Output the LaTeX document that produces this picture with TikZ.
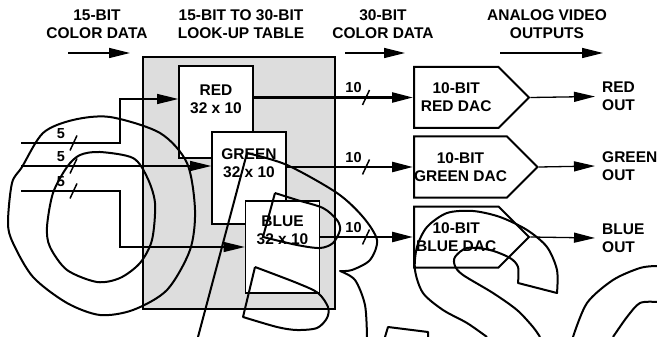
\documentclass[tikz,border=0pt]{standalone}
\usepackage{fontspec}
\setmainfont{Liberation Sans}
\usetikzlibrary{arrows.meta, positioning, shapes.symbols}
\definecolor{lutgray}{HTML}{DDDDDD}

% slash on a bus line, with its width
\newcommand{\bustick}[2]{%
  \draw[tick] ([shift={(-3.5,7.5)}]#1) -- ([shift={(3.5,-7.5)}]#1);
  \node[buslbl] at ([shift={(-12.5,-9.5)}]#1) {#2};}

\begin{document}
\begin{tikzpicture}[
    x=1pt, y=-1pt,
    font=\fontsize{15.5}{18}\selectfont\bfseries,
    lutframe/.style={rectangle, draw, line width=2pt, fill=lutgray,
                minimum width=192pt, minimum height=252pt, inner sep=0pt},
    lutbox/.style={rectangle, draw, line width=1.6pt, fill=white,
                minimum width=74pt, minimum height=92pt, inner sep=0pt},
    lutlbl/.style={align=center, inner sep=0pt},
    dac/.style={signal, signal to=east, signal pointer angle=90, draw,
                line width=2pt, fill=white, minimum width=115pt,
                minimum height=61pt, align=center, inner sep=0pt},
    hdr/.style={align=center, inner sep=0pt},
    outlbl/.style={align=left, inner sep=0pt, anchor=west},
    buslbl/.style={inner sep=0pt, font=\fontsize{14.5}{17}\selectfont\bfseries},
    tick/.style={line width=1.5pt},
    tip/.style={-{Triangle[length=21pt, width=10pt]}},
    inarr/.style={tip, line width=1.3pt},
    busarr/.style={tip, line width=2.4pt},
    outarr/.style={tip, line width=1.3pt},
    wm/.style={line width=2pt, line join=round}
  ]
    \useasboundingbox (0,0) rectangle (657,337);

    % headings
    \node[hdr] (hdin)  at (97,24.5)  {15-BIT\\COLOR DATA};
    \node[hdr] (hdlut) at (241,24.5) {15-BIT TO 30-BIT\\LOOK-UP TABLE};
    \node[hdr] (hdbus) at (383,24.5) {30-BIT\\COLOR DATA};
    \node[hdr] (hdout) at (547,24.5) {ANALOG VIDEO\\OUTPUTS};
    \coordinate (hda) at (68,53);  \coordinate (hdb) at (130,53);
    \coordinate (hdc) at (345,53); \coordinate (hdd) at (405,53);
    \coordinate (hde) at (500,53); \coordinate (hdf) at (603,53);
    \draw[inarr] (hda) -- (hdb);
    \draw[inarr] (hdc) -- (hdd);
    \draw[inarr] (hde) -- (hdf);

    % look-up table
    \node[lutframe] (lut) at (239,183) {};
    \node[lutbox] (red) at (216,112) {};
    \node[lutlbl, below=19pt of red.north] {RED\\32 x 10};
    \node[lutbox] (green) at (249,178) {};
    \node[lutlbl, below=17pt of green.north] {GREEN\\32 x 10};
    \node[lutbox] (blue) at (282.5,247) {};
    \node[lutlbl, below=15pt of blue.north] {BLUE\\32 x 10};

    % DACs
    \node[dac, anchor=west] (reddac) at (413,97.5) {10-BIT\\RED DAC};
    \node[dac, anchor=west] (grndac) at (413,167)  {10-BIT\\GREEN DAC};
    \node[dac, anchor=west] (bludac) at (413,237)  {10-BIT\\BLUE DAC};

    \node[outlbl] (redout) at (602,96.5) {RED\\OUT};
    \node[outlbl] (grnout) at (602,166)  {GREEN\\OUT};
    \node[outlbl] (bluout) at (602,238)  {BLUE\\OUT};

    % 15-bit inputs
    \coordinate (in1) at (21,143);
    \coordinate (in2) at (21,166);
    \coordinate (in3) at (21,191);
    \draw[inarr] (in1) -- ++(99,0) |- ([yshift=13pt]red.west);
    \draw[inarr] (in2) -- (in2 -| green.west);
    \draw[inarr] (in3) -- ++(99,0) |- (blue.west);

    % 30-bit bus
    \draw[busarr] (red.east |- reddac.west)   -- (reddac.west);
    \draw[busarr] (green.east |- grndac.west) -- (grndac.west);
    \draw[busarr] (blue.east |- bludac.west)  -- (bludac.west);

    % analog outputs
    \draw[outarr] (reddac.east) -- ([xshift=-7pt]redout.west);
    \draw[outarr] (grndac.east) -- ([xshift=-7pt]grnout.west);
    \draw[outarr] (bludac.east) -- ([xshift=-7pt]bluout.west);

    % bus widths
    \coordinate (inx) at (73.5,0);
    \coordinate (busx) at (366,0);
    \coordinate (t1) at (inx |- in1);
    \coordinate (t2) at (inx |- in2);
    \coordinate (t3) at (inx |- in3);
    \coordinate (t4) at (busx |- reddac.west);
    \coordinate (t5) at (busx |- grndac.west);
    \coordinate (t6) at (busx |- bludac.west);
    \bustick{t1}{5}
    \bustick{t2}{5}
    \bustick{t3}{5}
    \bustick{t4}{10}
    \bustick{t5}{10}
    \bustick{t6}{10}

    % OBSOLETE watermark
    \draw[wm] plot[smooth cycle] coordinates {(110,117) (160,133) (187,163)
      (195,210) (190,250) (167,290) (133,310) (100,315) (67,303) (33,277)
      (13,243) (8,223) (12,183) (22,167) (43,133) (73,120)};
    \draw[wm] plot[smooth cycle] coordinates {(100,152) (133,158) (147,177)
      (155,203) (152,240) (140,263) (120,278) (97,282) (67,270) (50,247)
      (47,227) (53,193) (67,167) (80,155)};
    \draw[wm] (198,337) -- (247,153) -- plot[smooth] coordinates {(247,153)
      (287,165) (337,193) (363,217) (377,240) (370,260) (352,270) (340,271)}
      -- plot[smooth] coordinates {(340,271) (355,280) (365,305) (367,337)};
    \draw[wm] (275,193) -- (263,237) -- plot[smooth] coordinates {(263,237)
      (297,245) (320,248) (333,243) (340,230) (337,220) (323,208) (297,200)
      (275,193)};
    \draw[wm] (255,267) -- (243,317) -- plot[smooth] coordinates {(243,317)
      (277,327) (297,330) (317,328) (327,318) (328,307) (318,293) (297,283)
      (255,267)};
    \draw[wm] (385,337) -- (388,327) -- (428,332) -- (428,337);
    \draw[wm] plot[smooth] coordinates {(487,337) (467,323) (443,310)
      (423,293) (415,270) (417,247) (427,227) (447,213) (473,211) (500,217)
      (527,230) (547,247) (557,270) (557,293)} -- (518,283)
      -- plot[smooth] coordinates {(518,283) (518,267) (510,258) (490,250)
      (467,248) (455,257) (455,266) (463,275) (493,293) (517,310) (533,327)
      (540,337)};
    \draw[wm] plot[smooth] coordinates {(573,337) (587,303) (613,280)
      (640,268) (657,266)};
    \draw[wm] plot[smooth] coordinates {(613,337) (627,317) (640,303)
      (657,302)};
\end{tikzpicture}
\end{document}
